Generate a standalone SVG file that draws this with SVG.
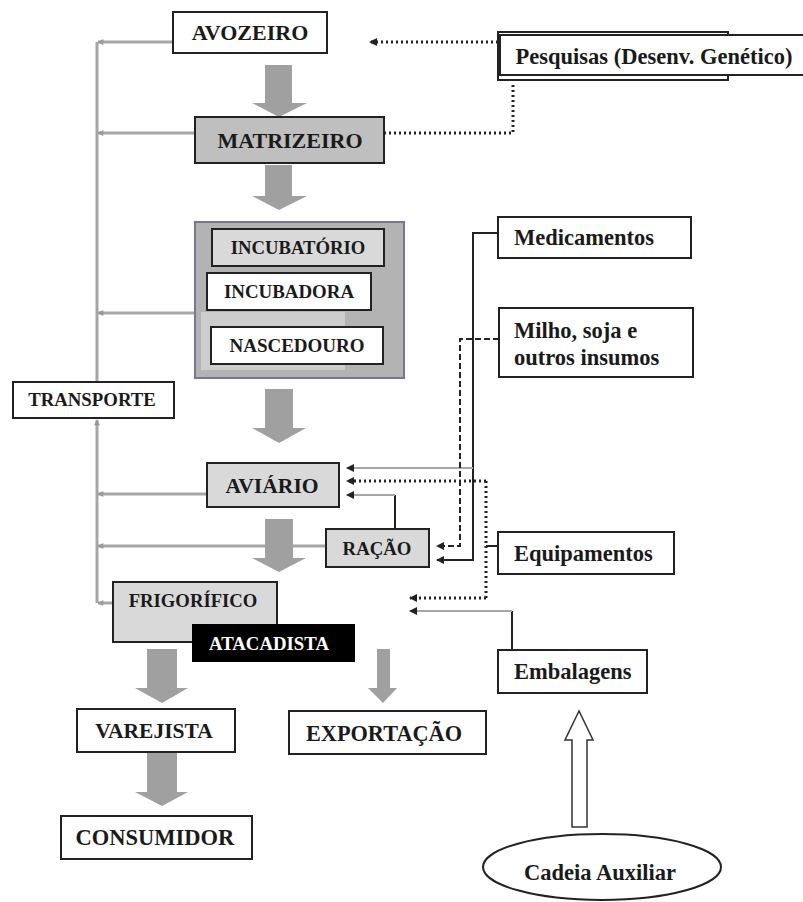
<svg xmlns="http://www.w3.org/2000/svg" width="803" height="902" viewBox="0 0 803 902">
<defs>
<style>
.t{font-family:"Liberation Serif","Times New Roman",serif;font-weight:bold;fill:#1a1a1a;}
.c{text-anchor:middle;}
.box{stroke:#222;stroke-width:2;}
.w{fill:#fff;}
.g{fill:#d9d9d9;}
.gl{fill:none;stroke:#a6a6a6;stroke-width:3;}
.bl{fill:none;stroke:#222;stroke-width:2;}
.dot{fill:none;stroke:#222;stroke-width:3;stroke-dasharray:2 3;}
.dash{fill:none;stroke:#222;stroke-width:2;stroke-dasharray:6 3;}
.big{fill:#a0a0a0;}
</style>
<marker id="ag" viewBox="0 0 8 8" refX="7" refY="4" markerWidth="7" markerHeight="6" orient="auto" markerUnits="userSpaceOnUse">
<path d="M0,0 L8,4 L0,8 Z" fill="#999"/>
</marker>
<marker id="ab" viewBox="0 0 8 8" refX="7" refY="4" markerWidth="9" markerHeight="8" orient="auto" markerUnits="userSpaceOnUse">
<path d="M0,0 L8,4 L0,8 Z" fill="#222"/>
</marker>
</defs>
<rect width="803" height="902" fill="#fff"/>

<g id="connectors">
<!-- transport gray lines -->
<path class="gl" d="M97,42 V382"/>
<path class="gl" d="M97,603 V420" marker-end="url(#ag)"/>
<path class="gl" d="M173,42 H98" marker-end="url(#ag)"/>
<path class="gl" d="M195,133 H98" marker-end="url(#ag)"/>
<path class="gl" d="M195,313 H98" marker-end="url(#ag)"/>
<path class="gl" d="M207,494 H98" marker-end="url(#ag)"/>
<path class="gl" d="M326,546 H98" marker-end="url(#ag)"/>
<path class="gl" d="M113,603 H98" marker-end="url(#ag)"/>
<!-- Pesquisas -->
<path class="dot" d="M498,42 H370" marker-end="url(#ab)"/>
<path class="dot" d="M384,133 H513 V83"/>
<!-- Medicamentos -->
<path class="bl" d="M498,233 H473 V560 H437" marker-end="url(#ab)"/>
<path fill="none" stroke="#a6a6a6" stroke-width="2" d="M473,468 H347" marker-end="url(#ab)"/>
<!-- Milho -->
<path class="dash" d="M499,339 H460 V546 H437" marker-end="url(#ab)"/>
<!-- Ração -> Aviário -->
<path class="bl" d="M395,529 V495"/>
<path fill="none" stroke="#a6a6a6" stroke-width="2" d="M395,495 H347" marker-end="url(#ab)"/>
<!-- Equipamentos -->
<path class="bl" d="M498,546 H486"/>
<path class="dot" d="M486,481 V598"/>
<path class="dot" d="M486,481 H347" marker-end="url(#ab)"/>
<path class="dot" d="M486,598 H410" marker-end="url(#ab)"/>
<!-- Embalagens -->
<path class="bl" d="M512,650 V611"/>
<path fill="none" stroke="#a6a6a6" stroke-width="2" d="M512,611 H410" marker-end="url(#ab)"/>
<!-- big flow arrows -->
<polygon class="big" points="265,65 292,65 292,103 307,103 279,117 252,103 265,103"/>
<polygon class="big" points="265,165 292,165 292,196 307,196 279,210 252,196 265,196"/>
<polygon class="big" points="265,389 293,389 293,428 306,428 279,443 252,428 265,428"/>
<polygon class="big" points="265,519 293,519 293,558 306,558 279,572 252,558 265,558"/>
<polygon class="big" points="147,649 177,649 177,688 188,688 162,703 135,688 147,688"/>
<polygon class="big" points="147,753 177,753 177,792 188,792 162,806 135,792 147,792"/>
<polygon class="big" points="377,649 390,649 390,688 397,688 383,703 368,688 377,688"/>
<polygon points="572,827 587,827 587,740 593,740 579,711 565,740 572,740" fill="#fff" stroke="#333" stroke-width="1.5"/>
</g>

<g id="avozeiro">
<rect class="box w" x="173" y="12" width="154" height="41"/>
<text class="t c" x="250" y="40" font-size="22">AVOZEIRO</text>
</g>
<g id="matrizeiro">
<rect class="box" fill="#bfbfbf" x="195" y="117" width="189" height="46"/>
<text class="t c" x="290" y="148" font-size="22">MATRIZEIRO</text>
</g>
<g id="pesquisas">
<rect class="box w" x="498" y="32" width="230" height="48"/>
<rect class="box w" x="500" y="35" width="305" height="40"/>
<text class="t c" x="654" y="64" font-size="22.5">Pesquisas (Desenv. Genético)</text>
</g>
<g id="incubatorio-grupo">
<rect x="195" y="222" width="209" height="156" fill="#b3b3b3" stroke="#77778f" stroke-width="2"/>
<rect x="201" y="312" width="144" height="58" fill="#cdcdcd"/>
<rect class="box g" x="212" y="229" width="172" height="37"/>
<text class="t c" x="298" y="254" font-size="18.7">INCUBATÓRIO</text>
<rect class="box w" x="207" y="273" width="164" height="37"/>
<text class="t c" x="289" y="298" font-size="18.9">INCUBADORA</text>
<rect class="box w" x="211" y="327" width="172" height="37"/>
<text class="t c" x="297" y="352" font-size="19">NASCEDOURO</text>
</g>
<g id="transporte">
<rect class="box w" x="13" y="382" width="161" height="36"/>
<text class="t c" x="92" y="406" font-size="18.8">TRANSPORTE</text>
</g>
<g id="medicamentos">
<rect class="box w" x="498" y="217" width="193" height="41"/>
<text class="t" x="514" y="245" font-size="22.5">Medicamentos</text>
</g>
<g id="milho">
<rect class="box w" x="499" y="308" width="194" height="69"/>
<text class="t" x="514" y="338" font-size="22.5">Milho, soja e</text>
<text class="t" x="514" y="365" font-size="22.5">outros insumos</text>
</g>
<g id="aviario">
<rect class="box g" x="207" y="463" width="132" height="44"/>
<text class="t c" x="272" y="493" font-size="21.6">AVIÁRIO</text>
</g>
<g id="racao">
<rect class="box g" x="326" y="529" width="103" height="38"/>
<text class="t c" x="377" y="555" font-size="18.8">RAÇÃO</text>
</g>
<g id="equipamentos">
<rect class="box w" x="498" y="532" width="176" height="42"/>
<text class="t" x="514" y="561" font-size="22.5">Equipamentos</text>
</g>
<g id="embalagens">
<rect class="box w" x="498" y="650" width="149" height="43"/>
<text class="t" x="514" y="679" font-size="22.5">Embalagens</text>
</g>
<g id="frigorifico">
<rect class="box g" x="113" y="582" width="164" height="60"/>
<text class="t c" x="193" y="607" font-size="18.7">FRIGORÍFICO</text>
</g>
<g id="atacadista">
<rect x="192" y="624" width="163" height="38" fill="#000"/>
<text class="t c" x="269" y="650" font-size="18.8" style="fill:#fff">ATACADISTA</text>
</g>
<g id="varejista">
<rect class="box w" x="77" y="709" width="158" height="43"/>
<text class="t c" x="154" y="738" font-size="21.5">VAREJISTA</text>
</g>
<g id="exportacao">
<rect class="box w" x="289" y="711" width="197" height="43"/>
<text class="t c" x="384" y="741" font-size="22.3">EXPORTAÇÃO</text>
</g>
<g id="consumidor">
<rect class="box w" x="61" y="816" width="191" height="43"/>
<text class="t c" x="155" y="845" font-size="22.5">CONSUMIDOR</text>
</g>
<g id="cadeia-auxiliar">
<ellipse cx="602" cy="867" rx="119" ry="33" fill="#fff" stroke="#222" stroke-width="2"/>
<text class="t c" x="600" y="880" font-size="22.5">Cadeia Auxiliar</text>
</g>
</svg>
